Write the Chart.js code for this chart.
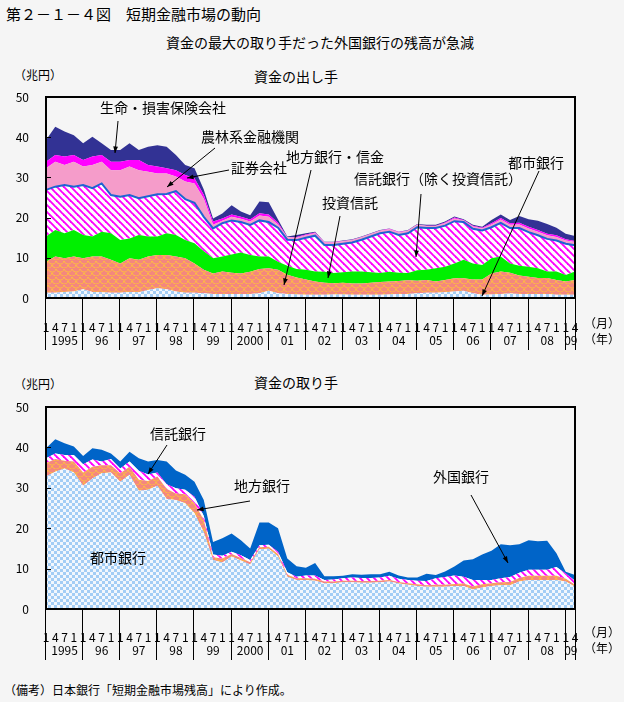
<!DOCTYPE html>
<html lang="ja">
<head>
<meta charset="utf-8">
<script src="https://cdn.jsdelivr.net/npm/chart.js@4.4.1/dist/chart.umd.min.js"></script>
<style>
  body { margin: 0; background: #f5f5f5; width: 624px; height: 702px; position: relative; overflow: hidden;
         font-family: "Noto Sans CJK JP", sans-serif; color: #000; }
  .t { position: absolute; white-space: nowrap; line-height: 1; }
  .c { transform: translateX(-50%); }
  canvas { position: absolute; left: 0; }
</style>
</head>
<body>
<div class="t" style="left:6px;top:6px;font-size:15px">第２－１－４図　短期金融市場の動向</div>
<div class="t c" style="left:320px;top:35px;font-size:14px">資金の最大の取り手だった外国銀行の残高が急減</div>

<div class="t" style="left:14px;top:69px;font-size:12px">（兆円）</div>
<div class="t c" style="left:296px;top:69px;font-size:14px">資金の出し手</div>
<canvas id="top" width="624" height="300" style="top:60px"></canvas>
<div class="t" style="left:584px;top:317px;font-size:12px">（月）</div>
<div class="t" style="left:584px;top:333px;font-size:12px">（年）</div>

<div class="t" style="left:14px;top:378px;font-size:12px">（兆円）</div>
<div class="t c" style="left:296px;top:375px;font-size:14px">資金の取り手</div>
<canvas id="bottom" width="624" height="300" style="top:365px"></canvas>
<div class="t" style="left:584px;top:626px;font-size:12px">（月）</div>
<div class="t" style="left:584px;top:642px;font-size:12px">（年）</div>

<div class="t" style="left:4px;top:684px;font-size:12px">（備考）日本銀行「短期金融市場残高」により作成。</div>

<script>
// 四半期ごと（1,4,7,10月）1995年1月～2009年4月、単位：兆円
const years = ['1995', '96', '97', '98', '99', '2000', '01', '02', '03', '04', '05', '06', '07', '08', '09'];
const monthTicks = ['1', '4', '7', '1'];

// 資金の出し手
const giverCityBanks = [1.3, 1.3, 1.5, 1.6, 2.2, 1.5, 1.4, 1.3, 1.3, 1.5,
  1.4, 2.0, 2.4, 2.2, 1.6, 1.3, 1.3, 1.2, 1.0, 1.0,
  1.0, 1.0, 1.0, 1.2, 1.8, 1.2, 1.0, 0.9, 0.8, 0.8,
  0.8, 0.9, 0.9, 0.8, 0.8, 0.8, 0.8, 0.9, 1.0, 1.0,
  1.2, 1.3, 1.3, 1.4, 1.6, 1.8, 1.2, 0.8, 0.9, 1.0,
  1.1, 1.0, 1.0, 1.0, 1.0, 0.8, 0.8, 0.8];
const giverRegional = [7.7, 9.0, 8.4, 8.7, 7.7, 8.8, 8.9, 8.2, 7.3, 8.4,
  8.1, 8.3, 8.3, 8.5, 8.7, 8.6, 7.3, 5.8, 5.1, 5.6,
  5.3, 5.1, 5.5, 6.0, 5.6, 5.8, 4.8, 4.2, 3.8, 3.3,
  3.0, 2.8, 2.9, 2.8, 2.8, 3.0, 3.2, 3.2, 3.2, 3.4,
  3.1, 3.2, 2.8, 3.1, 3.3, 3.1, 3.4, 3.8, 5.2, 5.6,
  5.2, 4.6, 4.3, 4.0, 4.0, 3.7, 3.3, 3.7];
const giverInvTrust = [6.3, 6.6, 6.2, 6.6, 5.8, 5.0, 6.2, 6.6, 5.8, 4.9,
  6.2, 5.0, 4.6, 5.4, 5.4, 4.5, 5.0, 4.6, 3.8, 3.7,
  4.5, 5.2, 4.2, 3.1, 2.9, 2.0, 2.2, 2.1, 2.4, 2.5,
  2.7, 2.5, 2.6, 3.0, 3.0, 2.6, 2.2, 2.4, 2.1, 1.8,
  2.6, 2.5, 3.3, 3.3, 3.7, 4.6, 4.0, 3.6, 3.8, 3.7,
  2.3, 2.4, 2.5, 2.4, 1.6, 2.1, 1.6, 2.1];
const giverTrustBanks = [11.6, 10.8, 12.0, 10.8, 12.4, 12.0, 12.0, 9.5, 10.8, 10.8,
  9.1, 10.0, 10.5, 9.8, 10.9, 10.2, 10.1, 8.6, 7.4, 8.3,
  8.5, 7.6, 7.5, 9.0, 8.6, 8.5, 6.5, 7.2, 8.0, 8.9,
  6.7, 7.0, 7.1, 7.2, 7.9, 8.9, 9.9, 10.0, 9.4, 9.9,
  10.7, 10.4, 10.0, 10.2, 10.5, 9.4, 8.6, 8.6, 7.7, 8.4,
  8.8, 9.4, 8.6, 8.2, 8.1, 7.7, 7.8, 6.5];
const giverAgri = [5.4, 6.2, 5.0, 6.2, 4.6, 5.8, 5.4, 6.2, 6.6, 7.1,
  7.0, 6.1, 5.2, 5.1, 3.6, 4.4, 4.8, 4.5, 0.9, 0.6,
  0.9, 0.8, 0.8, 1.2, 1.3, 0.8, 0.6, 0.6, 0.6, 0.6,
  0.6, 0.6, 0.6, 0.6, 0.6, 0.6, 0.6, 0.6, 0.6, 0.6,
  0.6, 0.5, 0.5, 0.6, 0.7, 0.4, 0.6, 0.5, 0.7, 0.8,
  0.8, 0.9, 0.9, 0.9, 0.9, 0.9, 0.8, 0.8];
const giverSecurities = [1.6, 1.7, 2.1, 1.7, 1.6, 2.1, 1.7, 2.1, 2.1, 1.6,
  2.5, 1.7, 1.7, 1.3, 1.6, 1.6, 1.3, 1.0, 0.8, 0.6,
  0.6, 0.5, 0.5, 0.6, 0.6, 0.4, 0.1, 0.2, 0.2, 0.2,
  0.1, 0.1, 0.1, 0.1, 0.1, 0.1, 0.1, 0.1, 0.1, 0.1,
  0.1, 0.1, 0.1, 0.2, 0.2, 0.1, 0.2, 0.2, 0.3, 0.4,
  0.4, 0.4, 0.4, 0.4, 0.4, 0.4, 0.3, 0.3];
const giverInsurance = [5.4, 7.0, 6.2, 4.9, 4.2, 4.9, 2.9, 2.9, 2.9, 4.2,
  2.5, 4.5, 5.3, 5.3, 3.8, 2.5, 2.5, 1.3, 0.8, 1.2,
  2.3, 1.3, 1.1, 2.9, 3.0, 0.8, 0.1, 0.5, 0.3, 0.2,
  0.1, 0.1, 0.1, 0.1, 0.1, 0.1, 0.1, 0.1, 0.1, 0.1,
  0.1, 0.2, 0.2, 0.2, 0.3, 0.2, 0.2, 0.2, 0.8, 0.9,
  0.8, 1.7, 1.9, 2.3, 2.4, 1.9, 1.4, 1.2];

// 資金の取り手
const takerCityBanks = [32.8, 34.0, 34.8, 33.8, 30.5, 32.3, 33.6, 33.8, 31.5, 33.2,
  29.3, 29.5, 30.5, 27.2, 27.0, 26.2, 23.7, 19.0, 12.1, 11.5,
  13.0, 12.0, 11.0, 14.8, 14.9, 13.0, 8.0, 7.2, 7.2, 7.0,
  6.4, 6.4, 6.6, 6.6, 6.5, 6.5, 6.6, 6.8, 6.3, 6.0,
  5.7, 5.5, 5.5, 5.5, 5.7, 5.7, 4.8, 5.3, 5.7, 5.9,
  5.9, 6.8, 7.2, 7.2, 7.2, 7.2, 6.8, 5.5];
const takerRegional = [3.3, 3.1, 1.9, 2.7, 3.3, 2.9, 2.0, 1.8, 2.1, 2.0,
  2.7, 2.2, 2.3, 2.5, 1.6, 2.2, 2.5, 3.0, 0.7, 1.0,
  0.6, 0.6, 0.6, 0.5, 0.5, 0.6, 0.5, 0.4, 0.4, 0.5,
  0.4, 0.4, 0.4, 0.4, 0.4, 0.4, 0.4, 0.4, 0.4, 0.4,
  0.4, 0.4, 0.5, 0.5, 0.5, 0.6, 0.8, 0.8, 0.7, 0.7,
  0.8, 0.9, 1.0, 1.0, 1.0, 1.0, 0.7, 0.5];
const takerTrustBanks = [1.2, 1.4, 1.4, 1.6, 2.0, 1.8, 0.9, 1.5, 1.2, 1.3,
  2.2, 1.6, 1.0, 1.2, 1.3, 1.1, 1.6, 1.0, 0.7, 0.7,
  0.6, 0.7, 0.5, 0.5, 0.5, 0.6, 0.6, 0.4, 0.7, 0.8,
  0.4, 0.5, 0.6, 0.8, 0.8, 0.8, 0.8, 1.0, 0.8, 0.8,
  0.9, 1.0, 1.6, 1.9, 2.1, 1.7, 1.6, 1.1, 0.8, 1.0,
  1.2, 1.3, 1.5, 1.5, 1.5, 2.2, 1.3, 1.0];
const takerForeign = [2.5, 3.5, 2.9, 2.1, 2.1, 2.8, 2.9, 1.4, 1.7, 2.4,
  3.1, 3.2, 3.1, 5.6, 4.4, 3.7, 3.7, 4.0, 3.1, 4.3,
  4.5, 3.7, 2.9, 5.6, 5.5, 5.8, 3.4, 2.6, 1.9, 3.1,
  0.9, 0.8, 0.6, 0.8, 0.8, 0.9, 0.8, 1.0, 0.8, 0.6,
  0.8, 1.8, 0.8, 1.4, 2.2, 4.0, 5.1, 6.3, 7.2, 8.4,
  7.9, 7.0, 7.3, 7.1, 7.2, 3.4, 0.4, 1.4];

// 横軸のラベル（2009年は4月まで）
const labels = [];
years.forEach((yr, i) => {
  monthTicks.forEach((m, j) => {
    if (i < years.length - 1 || j < 2) labels.push(m);
  });
});

const FONT = '"Noto Sans CJK JP", sans-serif';

// 塗りつぶし用のパターン
function makePattern(ctx, w, h, draw) {
  const tile = document.createElement('canvas');
  tile.width = w;
  tile.height = h;
  draw(tile.getContext('2d'));
  return ctx.createPattern(tile, 'repeat');
}

function patterns(ctx) {
  return {
    checker: makePattern(ctx, 6, 6, g => {
      g.fillStyle = '#f2f7fd';
      g.fillRect(0, 0, 6, 6);
      g.fillStyle = '#a3cdf5';
      g.fillRect(0, 0, 3, 3);
      g.fillRect(3, 3, 3, 3);
    }),
    scales: makePattern(ctx, 8, 8, g => {
      g.fillStyle = '#f4877e';
      g.fillRect(0, 0, 8, 8);
      g.strokeStyle = '#ffc23c';
      g.lineWidth = 0.9;
      [[4, 0], [0, 4], [8, 4], [4, 8]].forEach(([cx, cy]) => {
        g.beginPath();
        g.arc(cx, cy, 4, 0.2, Math.PI - 0.2);
        g.stroke();
      });
    }),
    hatch: makePattern(ctx, 7, 7, g => {
      g.fillStyle = '#ffffff';
      g.fillRect(0, 0, 7, 7);
      g.strokeStyle = '#ff00ff';
      g.lineWidth = 1.9;
      [-7, 0, 7].forEach(x0 => {
        g.beginPath();
        g.moveTo(x0 - 1, -1);
        g.lineTo(x0 + 8, 8);
        g.stroke();
      });
    })
  };
}

function area(label, data, fill, first, extra) {
  return Object.assign({
    label: label,
    data: data,
    backgroundColor: fill,
    borderColor: 'rgba(0,0,0,0)',
    borderWidth: 0,
    pointRadius: 0,
    tension: 0,
    fill: first ? 'origin' : '-1'
  }, extra || {});
}

function arrow(ctx, x1, y1, x2, y2) {
  ctx.beginPath();
  ctx.moveTo(x1, y1);
  ctx.lineTo(x2, y2);
  ctx.stroke();
  const a = Math.atan2(y2 - y1, x2 - x1);
  const L = 7;
  ctx.beginPath();
  ctx.moveTo(x2, y2);
  ctx.lineTo(x2 - L * Math.cos(a - 0.35), y2 - L * Math.sin(a - 0.35));
  ctx.lineTo(x2 - L * Math.cos(a + 0.35), y2 - L * Math.sin(a + 0.35));
  ctx.closePath();
  ctx.fill();
}

// 枠線、目盛り、年の区切り、注記
const decor = {
  id: 'decor',
  afterDraw(chart, args, opts) {
    const { ctx, chartArea: a, scales: { x, y } } = chart;
    ctx.save();
    ctx.strokeStyle = '#000';
    ctx.fillStyle = '#000';

    ctx.lineWidth = 1;
    y.ticks.forEach(t => {
      const py = Math.round(y.getPixelForValue(t.value)) + 0.5;
      ctx.beginPath();
      ctx.moveTo(a.left, py);
      ctx.lineTo(a.left + 5, py);
      ctx.stroke();
    });

    ctx.font = '12px ' + FONT;
    ctx.textAlign = 'center';
    ctx.textBaseline = 'middle';
    years.forEach((yr, i) => {
      const x0 = x.getPixelForValue(i * 4) - 1;
      const x1 = i < years.length - 1 ? x.getPixelForValue(i * 4 + 4) - 1 : a.right;
      const px = Math.round(x0) + 0.5;
      ctx.beginPath();
      ctx.moveTo(px, a.bottom);
      ctx.lineTo(px, opts.sepBottom);
      ctx.stroke();
      ctx.fillText(yr, (x0 + x1) / 2 + 1, opts.yearY);
    });
    ctx.beginPath();
    ctx.moveTo(a.right + 0.5, a.bottom);
    ctx.lineTo(a.right + 0.5, opts.sepBottom);
    ctx.stroke();

    ctx.lineWidth = 2;
    ctx.strokeRect(a.left, a.top, a.right - a.left, a.bottom - a.top);

    ctx.font = '14px ' + FONT;
    ctx.lineWidth = 1;
    const dy = opts.offsetY;
    opts.notes.forEach(n => {
      ctx.fillText(n.text, n.cx, n.cy - dy);
      if (n.from) arrow(ctx, n.from[0], n.from[1] - dy, n.to[0], n.to[1] - dy);
    });
    ctx.restore();
  }
};

function makeChart(id, datasets, padTop, axisHeight, tickPad, decorOpts) {
  const canvas = document.getElementById(id);
  return new Chart(canvas.getContext('2d'), {
    type: 'line',
    data: { labels: labels, datasets: datasets },
    plugins: [decor],
    options: {
      responsive: false,
      animation: false,
      layout: { padding: { top: padTop, right: 49, left: 0, bottom: 0 } },
      plugins: {
        legend: { display: false },
        tooltip: { enabled: false },
        decor: decorOpts
      },
      scales: {
        x: {
          type: 'category',
          offset: false,
          grid: { display: false },
          border: { display: false },
          ticks: {
            autoSkip: false,
            maxRotation: 0,
            padding: tickPad,
            color: '#000',
            font: { family: FONT, size: 12 }
          },
          afterFit: s => { s.height = axisHeight; }
        },
        y: {
          stacked: true,
          min: 0,
          max: 50,
          grid: { display: false },
          border: { display: false },
          ticks: {
            stepSize: 10,
            padding: 9,
            color: '#000',
            font: { family: FONT, size: 12 }
          },
          afterFit: s => { s.width = 46; }
        }
      }
    }
  });
}

const topCtx = document.getElementById('top').getContext('2d');
const pt = patterns(topCtx);
makeChart('top', [
  area('都市銀行', giverCityBanks, pt.checker, true),
  area('地方銀行・信金', giverRegional, pt.scales),
  area('投資信託', giverInvTrust, '#00f000'),
  area('信託銀行（除く投資信託）', giverTrustBanks, pt.hatch, false, { borderColor: '#1e64d2', borderWidth: 2 }),
  area('農林系金融機関', giverAgri, '#f59cca'),
  area('証券会社', giverSecurities, '#ff00ff'),
  area('生命・損害保険会社', giverInsurance, '#323294')
], 37, 62, 14, {
  offsetY: 60,
  yearY: 280,
  sepBottom: 290,
  notes: [
    { text: '生命・損害保険会社', cx: 163, cy: 108, from: [118, 121], to: [115, 153] },
    { text: '農林系金融機関', cx: 250, cy: 137, from: [215, 148], to: [167, 187] },
    { text: '証券会社', cx: 259, cy: 168, from: [229, 170], to: [187, 178] },
    { text: '地方銀行・信金', cx: 335, cy: 157, from: [311, 170], to: [284, 285] },
    { text: '投資信託', cx: 350, cy: 203, from: [340, 216], to: [328, 278] },
    { text: '信託銀行（除く投資信託）', cx: 438, cy: 179, from: [421, 194], to: [416, 257] },
    { text: '都市銀行', cx: 536, cy: 163, from: [539, 171], to: [482, 296] }
  ]
});

const botCtx = document.getElementById('bottom').getContext('2d');
const pb = patterns(botCtx);
makeChart('bottom', [
  area('都市銀行', takerCityBanks, pb.checker, true),
  area('地方銀行', takerRegional, pb.scales),
  area('信託銀行', takerTrustBanks, pb.hatch),
  area('外国銀行', takerForeign, '#0064c8')
], 42, 56, 13, {
  offsetY: 365,
  yearY: 285,
  sepBottom: 295,
  notes: [
    { text: '信託銀行', cx: 178, cy: 434, from: [167, 445], to: [148, 474] },
    { text: '地方銀行', cx: 262, cy: 486, from: [250, 501], to: [197, 510] },
    { text: '都市銀行', cx: 118, cy: 558 },
    { text: '外国銀行', cx: 461, cy: 477, from: [471, 495], to: [508, 563] }
  ]
});
</script>
</body>
</html>
